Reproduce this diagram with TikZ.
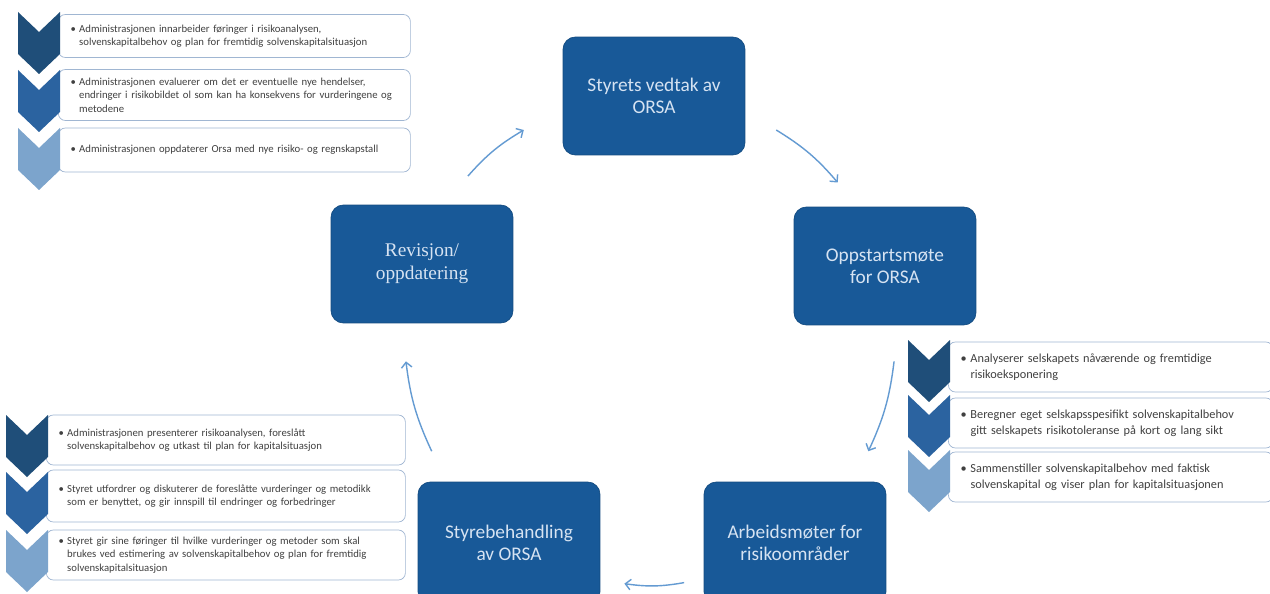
\documentclass[tikz,border=0pt]{standalone}
\usepackage{fontspec}
\setmainfont{Carlito}
\newfontfamily\revfont{Liberation Serif}
\usepackage{xcolor}
\usetikzlibrary{arrows.meta}

\definecolor{boxblue}{RGB}{24,89,152}
\definecolor{boxtext}{RGB}{214,227,242}
\definecolor{chevdark}{RGB}{31,78,121}
\definecolor{chevmid}{RGB}{43,99,160}
\definecolor{chevlight}{RGB}{124,164,204}
\definecolor{noteline}{RGB}{160,182,210}
\definecolor{notetext}{RGB}{64,64,64}
\definecolor{ringblue}{RGB}{100,155,210}

\newcommand{\pkt}[1]{\makebox[0.8em][l]{\textbullet}\parbox[t]{\dimexpr\hsize-0.8em\relax}{\raggedright #1}}

\begin{document}
\begin{tikzpicture}[x=0.02cm,y=-0.02cm,>={Straight Barb[length=3pt]},
  stage/.style={draw=boxblue!85!black,fill=boxblue,rounded corners=7pt,
    minimum width=3.64cm,minimum height=2.36cm,align=center,text=boxtext,
    font=\fontsize{11}{12.5}\selectfont},
  note/.style={draw=noteline,fill=white,rounded corners=4pt,anchor=west,
    align=left,text=notetext,inner xsep=7pt,inner ysep=2pt,
    font=\fontsize{6.1}{7.6}\selectfont},
  flow/.style={->,draw=ringblue,line width=0.8pt}]
  \clip (0,0) rectangle (1270,594);
  \fill[white] (0,0) rectangle (1270,594);

  % cycle of stages
  \node[stage] (sty) at (654,96) {Styrets vedtak av\\ORSA};
  \node[stage] (opp) at (885,266) {Oppstartsmøte\\for ORSA};
  \node[stage,minimum height=2.44cm] (arb) at (795,543) {Arbeidsmøter for\\risikoområder};
  \node[stage,minimum height=2.44cm] (stb) at (509,543) {Styrebehandling\\av ORSA};
  \node[stage,font=\revfont\fontsize{11}{13}\selectfont] (rev) at (422,264) {Revisjon/\\oppdatering};

  % arrows on the ring
  \coordinate (ring) at (650,340);
  \foreach \i/\a/\b in {1/-138/-121,2/-59/-40,3/5/27,4/82/96,5/153/175}{
     \path (ring) ++(\a:245) coordinate (s\i);
     \path (ring) ++(\b:245) coordinate (e\i);
     \draw[flow] (s\i) to[bend left=9] (e\i);
  }

  % top left: revisjon
  \node[note,text width=6.55cm,minimum height=0.86cm] (tl1) at (58,36)
    {\pkt{Administrasjonen innarbeider føringer i risikoanalysen,\\solvenskapitalbehov og plan for fremtidig solvenskapitalsituasjon}};
  \node[note,text width=6.55cm,minimum height=1.02cm] (tl2) at (58,95)
    {\pkt{Administrasjonen evaluerer om det er eventuelle nye hendelser,\\endringer i risikobildet ol som kan ha konsekvens for vurderingene og\\metodene}};
  \node[note,text width=6.55cm,minimum height=0.88cm] (tl3) at (58,150)
    {\pkt{Administrasjonen oppdaterer Orsa med nye risiko- og regnskapstall}};

  % right: arbeidsmøter
  \node[note,text width=6.0cm,minimum height=1cm,font=\fontsize{7}{9}\selectfont] (ri1) at (948,367)
    {\pkt{Analyserer selskapets nåværende og fremtidige\\risikoeksponering}};
  \node[note,text width=6.0cm,minimum height=1cm,font=\fontsize{7}{9}\selectfont] (ri2) at (948,423)
    {\pkt{Beregner eget selskapsspesifikt solvenskapitalbehov\\gitt selskapets risikotoleranse på kort og lang sikt}};
  \node[note,text width=6.0cm,minimum height=1cm,font=\fontsize{7}{9}\selectfont] (ri3) at (948,477)
    {\pkt{Sammenstiller solvenskapitalbehov med faktisk\\solvenskapital og viser plan for kapitalsituasjonen}};

  % bottom left: styrebehandling
  \node[note,text width=6.69cm,minimum height=1cm] (bl1) at (46,440)
    {\pkt{Administrasjonen presenterer risikoanalysen, foreslått\\solvenskapitalbehov og utkast til plan for kapitalsituasjon}};
  \node[note,text width=6.69cm,minimum height=1.04cm] (bl2) at (46,496)
    {\pkt{Styret utfordrer og diskuterer de foreslåtte vurderinger og metodikk\\som er benyttet, og gir innspill til endringer og forbedringer}};
  \node[note,text width=6.69cm,minimum height=1cm] (bl3) at (46,555)
    {\pkt{Styret gir sine føringer til hvilke vurderinger og metoder som skal\\brukes ved estimering av solvenskapitalbehov og plan for fremtidig\\solvenskapitalsituasjon}};

  % chevrons
  \foreach \x/\y/\c in {18/12/chevdark,18/70/chevmid,18/128/chevlight,
                        908/340/chevdark,908/395/chevmid,908/450/chevlight,
                        6/415/chevdark,6/472/chevmid,6/530/chevlight}{
     \fill[\c] (\x,\y) -- ++(21,20) -- ++(21,-20) -- ++(0,42) -- ++(-21,20) -- ++(-21,-20) -- cycle;
  }
\end{tikzpicture}
\end{document}
